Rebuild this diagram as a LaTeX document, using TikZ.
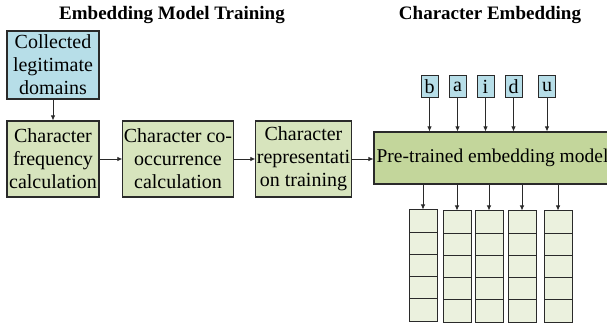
\documentclass[tikz,border=0pt]{standalone}
\usepackage{fontspec}
\setmainfont{Liberation Serif}
\usetikzlibrary{arrows.meta}
\definecolor{blueF}{HTML}{B7DEE8}
\definecolor{greenF}{HTML}{D7E4BD}
\definecolor{modelF}{HTML}{C3D69B}
\definecolor{cellF}{HTML}{EBF1DE}
\definecolor{edgeC}{HTML}{2A2A2A}
\tikzset{
  box/.style={draw=edgeC, line width=1.1pt, align=center, inner sep=1pt,
    font=\fontsize{20}{23}\selectfont},
  stepbox/.style={box, fill=greenF, minimum height=76pt},
  letterbox/.style={draw=edgeC, line width=1pt, fill=blueF, minimum width=17pt, minimum height=22pt,
    inner sep=0pt, font=\fontsize{20}{22}\selectfont},
  cellbox/.style={draw=edgeC, line width=1pt, fill=cellF, minimum width=28pt, minimum height=22.2pt, inner sep=0pt},
  arr/.style={draw=edgeC, line width=0.8pt, -{Latex[length=5pt,width=4.5pt]}},
  title/.style={font=\fontsize{19}{22}\selectfont\bfseries}
}
\begin{document}
\begin{tikzpicture}[x=1pt,y=-1pt]
\useasboundingbox (0,0) rectangle (607,328);
\node[title] (t1) at (172,15) {Embedding Model Training};
\node[title] (t2) at (490,15) {Character Embedding};

\node[box, fill=blueF, minimum width=92pt, minimum height=68pt] (coll) at (53,65) {Collected\\legitimate\\domains};
\node[stepbox, minimum width=92pt] (freq) at (53,159) {Character\\frequency\\calculation};
\node[stepbox, minimum width=106pt] (cooc) at (178,159) {Character co-\\occurrence\\calculation};
\node[stepbox, minimum width=93pt] (repr) at (303.5,159) {Character\\representati\\on training};
\node[box, fill=modelF, minimum width=237pt, minimum height=52pt, font=\fontsize{19.5}{22}\selectfont] (model) at (492.5,158) {Pre-trained embedding model};

\draw[arr] (coll.south) -- (freq.north);
\draw[arr] (freq.east) -- (cooc.west);
\draw[arr] (cooc.east) -- (repr.west);
\draw[arr] (repr.east) -- (repr.east -| model.west);

\foreach \n/\x/\l in {lb/429.5/b, la/457.5/a, li/485.5/i, ld/513.5/d, lu/547/u}{
  \node[letterbox] (\n) at (\x,87) {\l};
  \draw[arr] (\n.south) -- (\n.south |- model.north);
}

\foreach \c/\x/\dy in {1/423/-1, 2/457/0, 3/489/0, 4/522/0, 5/558/0}{
  \foreach \r in {1,...,5}{
    \node[cellbox] (v\c-\r) at (\x, {211+\dy+11.1+(\r-1)*22.2}) {};
  }
  \draw[arr] (v\c-1.north |- model.south) -- (v\c-1.north);
}
\end{tikzpicture}
\end{document}
